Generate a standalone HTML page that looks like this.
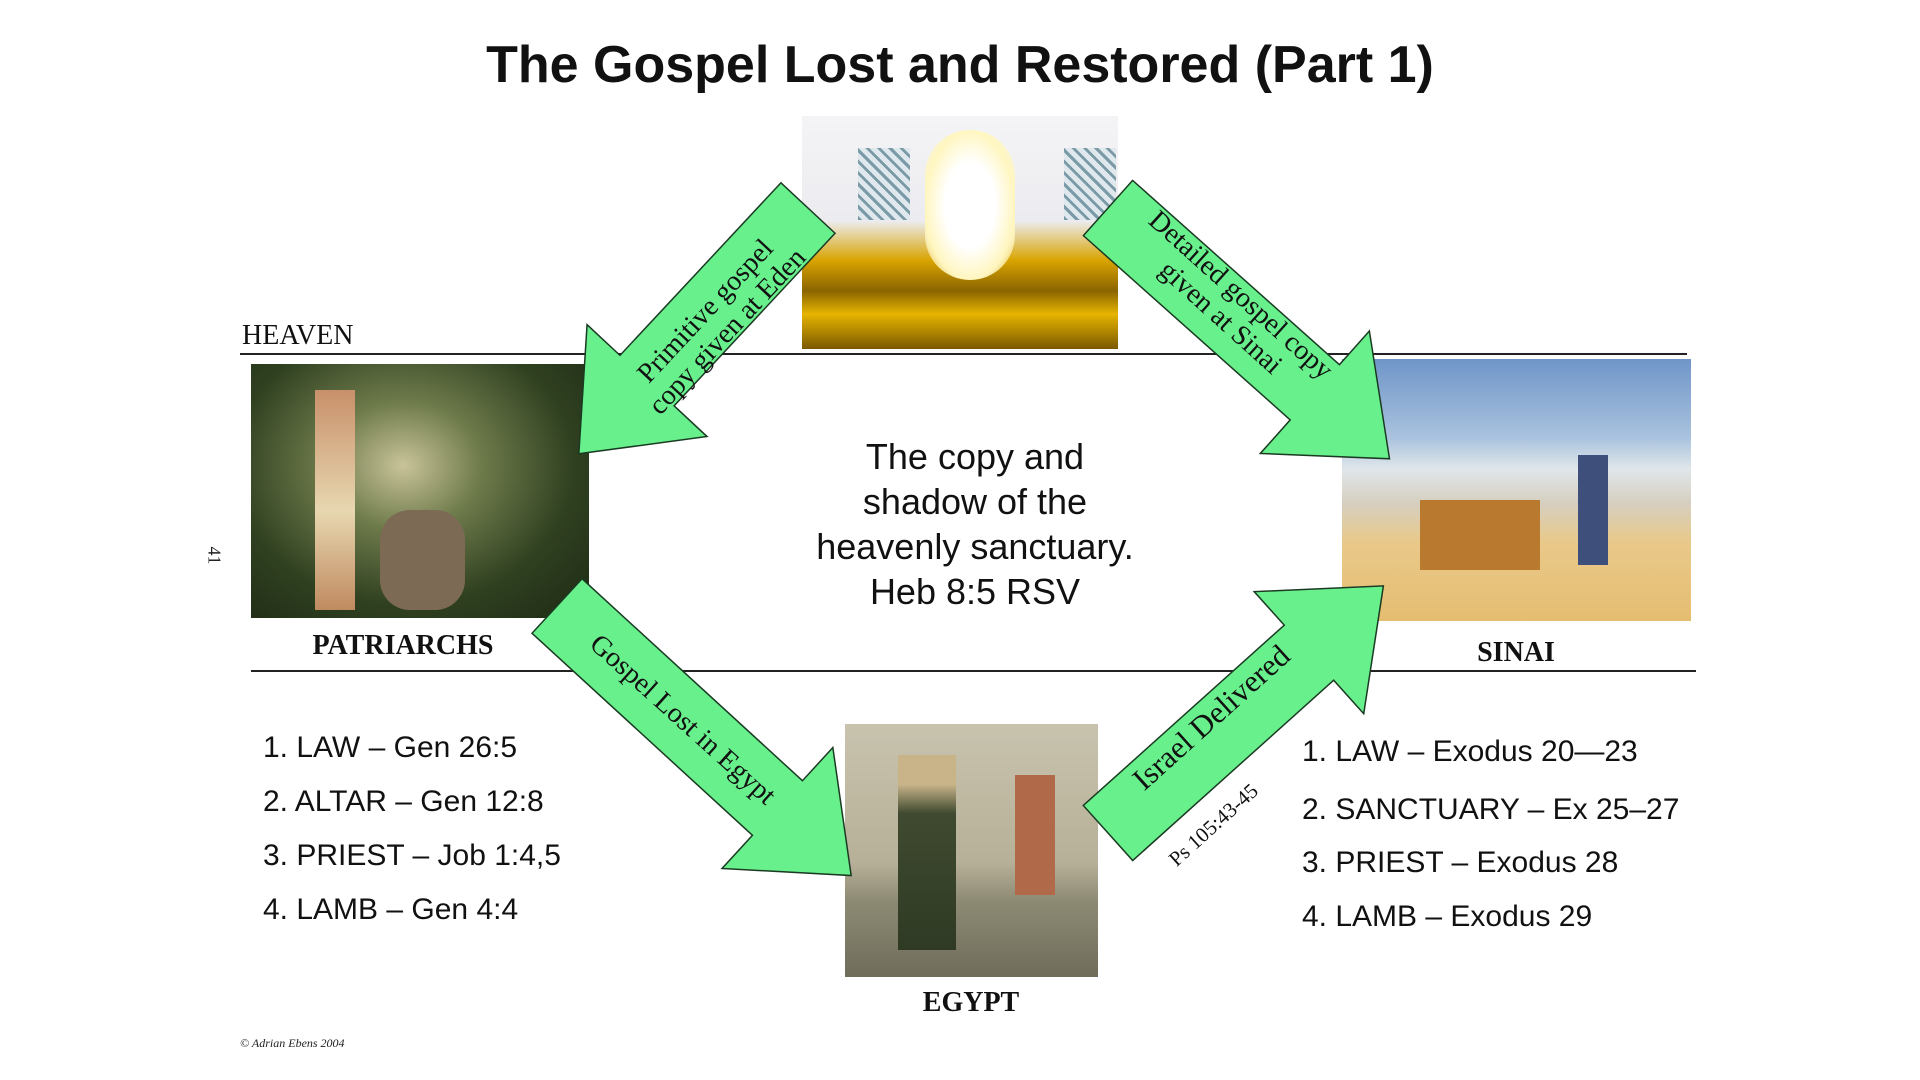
<!DOCTYPE html>
<html><head><meta charset="utf-8"><style>
body{margin:0;width:1920px;height:1080px;background:#fff;position:relative;overflow:hidden;font-family:"Liberation Sans",sans-serif}
.a{position:absolute}
.ser{font-family:"Liberation Serif",serif}
.lst div{position:absolute;font-size:30px;color:#111;white-space:nowrap}
</style></head><body>
<div class="a" style="left:0;width:1920px;top:35px;text-align:center;font-weight:bold;font-size:52px;color:#111">The Gospel Lost and Restored (Part 1)</div>

<div class="a" style="left:802px;top:116px;width:316px;height:233px;background:linear-gradient(180deg,#f4f4f6 0%,#ececf0 45%,#d9a400 62%,#8a6400 75%,#e6b400 85%,#7a5800 100%)"></div>
<div class="a" style="left:858px;top:148px;width:52px;height:72px;background:repeating-linear-gradient(45deg,#7a9aa8 0 3px,#dfe8ec 3px 8px)"></div>
<div class="a" style="left:1064px;top:148px;width:52px;height:72px;background:repeating-linear-gradient(45deg,#7a9aa8 0 3px,#dfe8ec 3px 8px)"></div>
<div class="a" style="left:925px;top:130px;width:90px;height:150px;border-radius:45px;background:radial-gradient(#fff 40%,#fff6c0 70%,rgba(255,230,100,0) 100%)"></div>

<div class="a ser" style="left:242px;top:320px;font-size:28px;color:#111">HEAVEN</div>
<div class="a" style="left:240px;top:353px;width:1447px;height:2px;background:#222"></div>
<div class="a" style="left:251px;top:670px;width:1445px;height:2px;background:#222"></div>

<div class="a" style="left:251px;top:364px;width:338px;height:254px;background:radial-gradient(ellipse at 45% 40%,#c9c39a 0%,#6d7a4a 30%,#2f4020 65%,#1e2a14 100%)"></div>
<div class="a" style="left:315px;top:390px;width:40px;height:220px;background:linear-gradient(#c8906a,#e7d7b0 55%,#c08a60)"></div>
<div class="a" style="left:380px;top:510px;width:85px;height:100px;border-radius:30px;background:#7d6a55"></div>
<div class="a ser" style="left:253px;width:300px;top:630px;text-align:center;font-weight:bold;font-size:28px;color:#111">PATRIARCHS</div>

<div class="a" style="left:1342px;top:359px;width:349px;height:262px;background:linear-gradient(180deg,#6f95c8 0%,#a9c2de 30%,#e0e6ea 42%,#d6cfc0 55%,#e9c98a 70%,#e5bd70 100%)"></div>
<div class="a" style="left:1420px;top:500px;width:120px;height:70px;background:#b97a30"></div>
<div class="a" style="left:1578px;top:455px;width:30px;height:110px;background:#3d4f7a"></div>
<div class="a ser" style="left:1416px;width:200px;top:637px;text-align:center;font-weight:bold;font-size:28px;color:#111">SINAI</div>

<div class="a" style="left:845px;top:724px;width:253px;height:253px;background:linear-gradient(180deg,#c8c3ae 0%,#b7b098 55%,#8d8a74 70%,#6f6c5a 100%)"></div>
<div class="a" style="left:898px;top:755px;width:58px;height:195px;background:linear-gradient(#c9b48a 15%,#3f4a30 30%,#2f3a24)"></div>
<div class="a" style="left:1015px;top:775px;width:40px;height:120px;background:#b06a4a"></div>
<div class="a ser" style="left:871px;width:200px;top:987px;text-align:center;font-weight:bold;font-size:28px;color:#111">EGYPT</div>

<div class="a" style="left:775px;width:400px;top:434px;text-align:center;font-size:36px;line-height:45px;color:#111">The copy and<br>shadow of the<br>heavenly sanctuary.<br>Heb 8:5 RSV</div>

<div class="lst">
<div style="left:263px;top:731px">1. LAW – Gen 26:5</div>
<div style="left:263px;top:785px">2. ALTAR – Gen 12:8</div>
<div style="left:263px;top:839px">3. PRIEST – Job 1:4,5</div>
<div style="left:263px;top:893px">4. LAMB – Gen 4:4</div>
<div style="left:1302px;top:735px">1. LAW – Exodus 20—23</div>
<div style="left:1302px;top:793px">2. SANCTUARY – Ex 25–27</div>
<div style="left:1302px;top:846px">3. PRIEST – Exodus 28</div>
<div style="left:1302px;top:900px">4. LAMB – Exodus 29</div>
</div>

<div class="a ser" style="left:205px;top:545px;font-size:18px;transform:rotate(90deg);color:#222">41</div>
<div class="a ser" style="left:240px;top:1036px;font-size:12px;font-style:italic;color:#222">© Adrian Ebens 2004</div>

<svg class="a" style="left:0;top:0" width="1920" height="1080">
<g fill="#68f08c" stroke="#1a3a22" stroke-width="1.5">
<polygon transform="translate(808,208) rotate(133)" points="0,-37 236,-37 236,-82 336,0 236,82 236,37 0,37"/>
<polygon transform="translate(1108,208) rotate(41.7)" points="0,-37 277,-37 277,-82 377,0 277,82 277,37 0,37"/>
<polygon transform="translate(557,606) rotate(42.5)" points="0,-37 299,-37 299,-82 399,0 299,82 299,37 0,37"/>
<polygon transform="translate(1108,833) rotate(-41.9)" points="0,-37 270,-37 270,-82 370,0 270,82 270,37 0,37"/>
</g>
<g font-family="Liberation Serif,serif" font-size="28" fill="#111" text-anchor="middle">
<text transform="translate(716,321) rotate(-47)"><tspan x="0" y="-6">Primitive gospel</tspan><tspan x="0" y="24">copy given at Eden</tspan></text>
<text transform="translate(1231,306) rotate(42)"><tspan x="0" y="-6">Detailed gospel copy</tspan><tspan x="0" y="24">given at Sinai</tspan></text>
<text transform="translate(677,726) rotate(42)">Gospel Lost in Egypt</text>
<text transform="translate(1218,725) rotate(-42)" font-size="31">Israel Delivered</text>
<text transform="translate(1218,830) rotate(-42)" font-size="21">Ps 105:43-45</text>
</g>
</svg>
</body></html>
